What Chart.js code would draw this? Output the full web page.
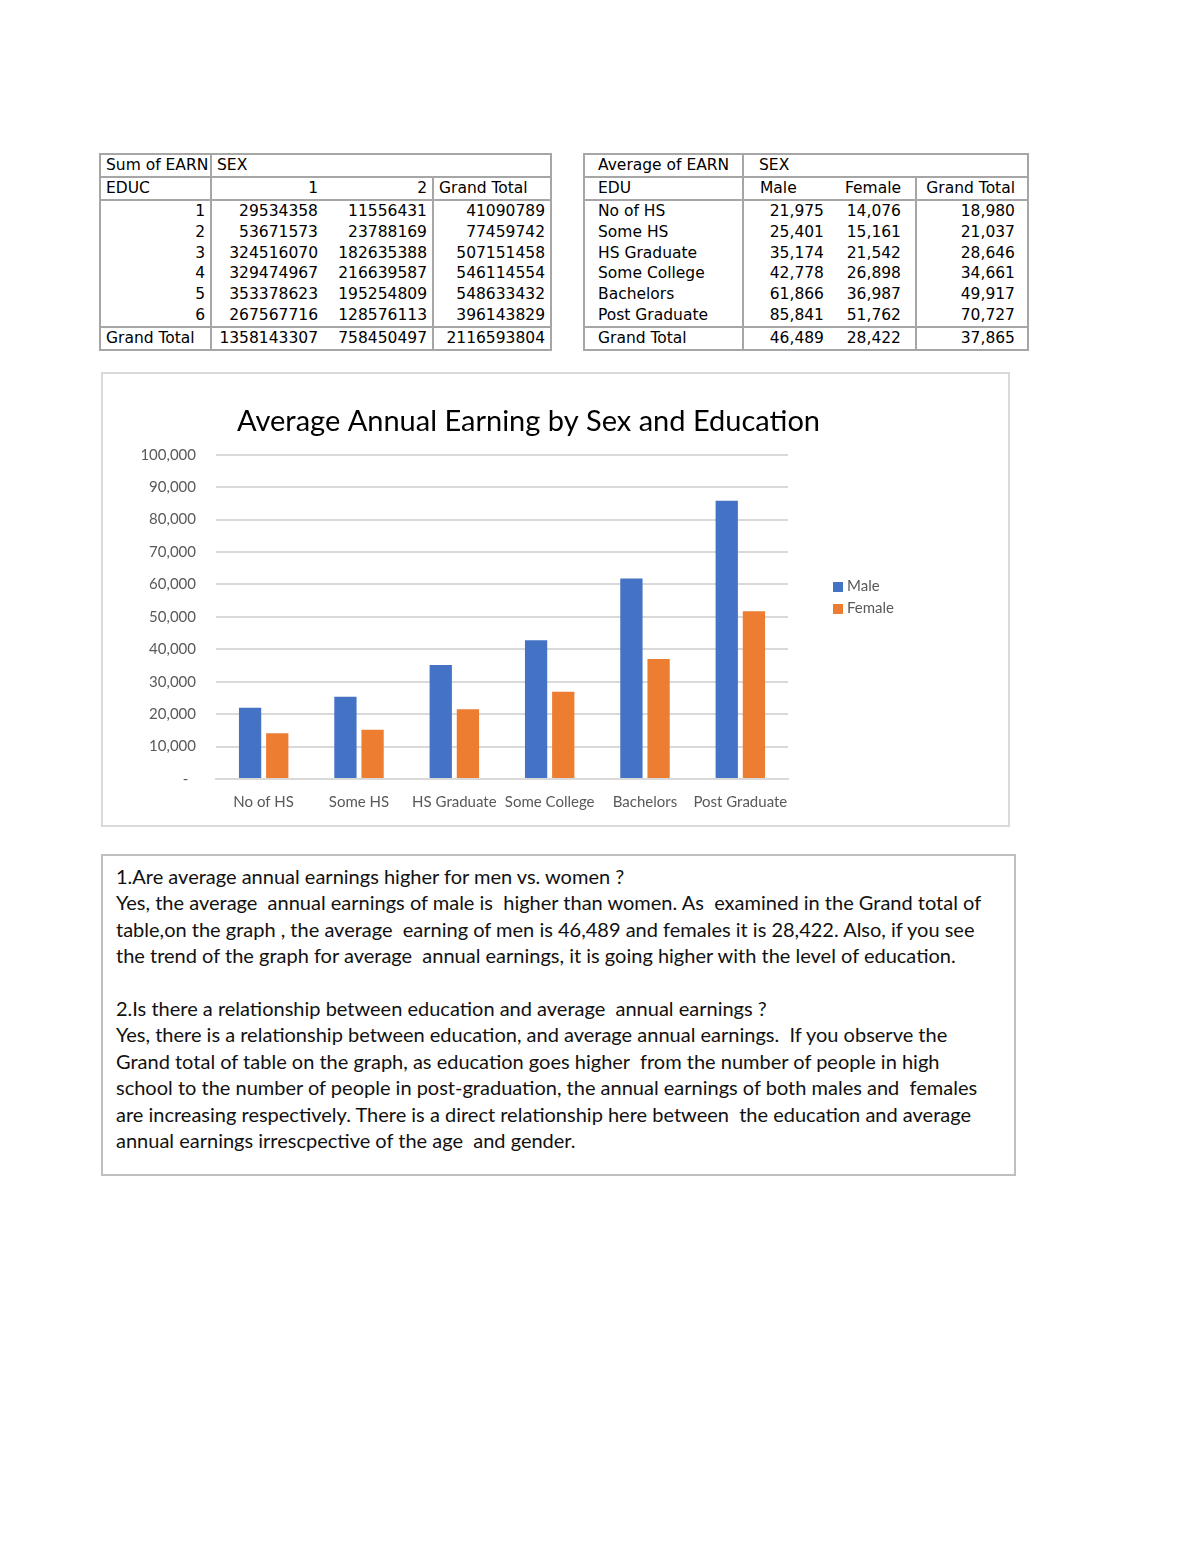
<!DOCTYPE html>
<html>
<head>
<meta charset="utf-8">
<title>Average Annual Earning by Sex and Education</title>
<script src="https://cdn.jsdelivr.net/npm/chart.js@4.4.1/dist/chart.umd.min.js"></script>
<style>
  body { margin: 0; background: #fff; width: 1200px; height: 1553px; position: relative; }
  table.pivot {
    position: absolute; border-collapse: collapse; table-layout: fixed;
    border: 2px solid #a6a6a6; font-family: "DejaVu Sans", sans-serif; font-size: 15.5px; color: #000;
  }
  table.pivot td { height: 20.9px; padding: 0 5px; white-space: nowrap; line-height: 19px; overflow: hidden; }
  table.pivot td.num { text-align: right; }
  table.pivot td.vr { border-right: 2px solid #a6a6a6; }
  table.pivot tr.hb td { border-bottom: 2px solid #a6a6a6; }
  #chartBox { position: absolute; left: 101px; top: 372px; width: 909px; height: 455px; border: 2px solid #d9d9d9; box-sizing: border-box; }
  #chart { position: absolute; left: 103px; top: 374px; }
  #legend { position: absolute; left: 833px; top: 574px; font-family: Lato, sans-serif; font-size: 15px; color: #595959; }
  #legend div { height: 22px; line-height: 22px; white-space: nowrap; }
  #legend span.box { display: inline-block; width: 10px; height: 10px; margin-right: 4px; vertical-align: -1px; }
  #notes {
    position: absolute; left: 101px; top: 854px; width: 915px; height: 322px; box-sizing: border-box;
    border: 2px solid #bfbfbf; padding: 7px 0 0 13px;
    font-family: Lato, sans-serif; font-size: 20px; line-height: 26.4px; color: #111; white-space: pre;
  }
</style>
</head>
<body>

<table class="pivot" id="sumTable" style="left:99px; top:153px; width:451px;">
  <colgroup><col style="width:111px"><col style="width:112px"><col style="width:110px"><col style="width:118px"></colgroup>
  <tbody></tbody>
</table>

<table class="pivot" id="avgTable" style="left:583px; top:153px; width:444px;">
  <colgroup><col style="width:159px"><col style="width:88px"><col style="width:85px"><col style="width:112px"></colgroup>
  <tbody></tbody>
</table>

<div id="chartBox"></div>
<canvas id="chart" width="850" height="451"></canvas>
<div id="legend"></div>

<div id="notes">1.Are average annual earnings higher for men vs. women ?
Yes, the average  annual earnings of male is  higher than women. As  examined in the Grand total of
table,on the graph , the average  earning of men is 46,489 and females it is 28,422. Also, if you see
the trend of the graph for average  annual earnings, it is going higher with the level of education.

2.Is there a relationship between education and average  annual earnings ?
Yes, there is a relationship between education, and average annual earnings.  If you observe the
Grand total of table on the graph, as education goes higher  from the number of people in high
school to the number of people in post-graduation, the annual earnings of both males and  females
are increasing respectively. There is a direct relationship here between  the education and average
annual earnings irrescpective of the age  and gender.</div>

<script>
// Sum of EARN pivot (raw totals by EDUC code and SEX code)
const educCodes = [1, 2, 3, 4, 5, 6];
const sumMale = [29534358, 53671573, 324516070, 329474967, 353378623, 267567716];
const sumFemale = [11556431, 23788169, 182635388, 216639587, 195254809, 128576113];
const sumTotal = [41090789, 77459742, 507151458, 546114554, 548633432, 396143829];
const sumGrand = [1358143307, 758450497, 2116593804];

// Average of EARN pivot - this is what the chart shows
const eduLabels = ["No of HS", "Some HS", "HS Graduate", "Some College", "Bachelors", "Post Graduate"];
const avgMale = [21975, 25401, 35174, 42778, 61866, 85841];
const avgFemale = [14076, 15161, 21542, 26898, 36987, 51762];
const avgTotal = [18980, 21037, 28646, 34661, 49917, 70727];
const avgGrand = [46489, 28422, 37865];

const seriesNames = ["Male", "Female"];
const seriesColors = ["#4472C4", "#ED7D31"];

const fmt = (n) => n.toLocaleString("en-US");

// Builds one table row from a list of [text, className, colspan] cells
function row(cells, rowClass) {
  const tr = document.createElement("tr");
  if (rowClass) tr.className = rowClass;
  cells.forEach(([text, cls, span]) => {
    const td = document.createElement("td");
    td.textContent = text;
    if (cls) td.className = cls;
    if (span) td.colSpan = span;
    tr.appendChild(td);
  });
  return tr;
}

// Sum table
const sumBody = document.querySelector("#sumTable tbody");
sumBody.appendChild(row([["Sum of EARN", "vr"], ["SEX", "", 3]], "hb"));
sumBody.appendChild(row([["EDUC", "vr"], ["1", "num"], ["2", "num vr"], ["Grand Total", ""]], "hb"));
educCodes.forEach((code, i) => {
  sumBody.appendChild(row([
    [String(code), "num vr"], [String(sumMale[i]), "num"], [String(sumFemale[i]), "num vr"], [String(sumTotal[i]), "num"]
  ], i === educCodes.length - 1 ? "hb" : ""));
});
sumBody.appendChild(row([["Grand Total", "vr"], [String(sumGrand[0]), "num"], [String(sumGrand[1]), "num vr"], [String(sumGrand[2]), "num"]]));

// Average table
const avgBody = document.querySelector("#avgTable tbody");
avgBody.appendChild(row([["Average of EARN", "vr"], ["SEX", "", 3]], "hb"));
avgBody.appendChild(row([["EDU", "vr"], ["Male", ""], ["Female", "num vr"], ["Grand Total", "num"]], "hb"));
eduLabels.forEach((label, i) => {
  avgBody.appendChild(row([
    [label, "vr"], [fmt(avgMale[i]), "num"], [fmt(avgFemale[i]), "num vr"], [fmt(avgTotal[i]), "num"]
  ], i === eduLabels.length - 1 ? "hb" : ""));
});
avgBody.appendChild(row([["Grand Total", "vr"], [fmt(avgGrand[0]), "num"], [fmt(avgGrand[1]), "num vr"], [fmt(avgGrand[2]), "num"]]));

// table 2 has wider inner padding than table 1
document.querySelectorAll("#avgTable tr").forEach((tr) => {
  const tds = tr.children;
  tds[0].style.paddingLeft = "13px";
  if (tds.length === 2) { tds[1].style.paddingLeft = "15px"; return; }
  tds[1].style.paddingLeft = "16px";
  tds[1].style.paddingRight = "7px";
  tds[2].style.paddingRight = "14px";
  tds[3].style.paddingRight = "12px";
});

// Legend (drawn as html next to the chart)
const legendDiv = document.getElementById("legend");
seriesNames.forEach((name, i) => {
  const item = document.createElement("div");
  item.innerHTML = '<span class="box" style="background:' + seriesColors[i] + '"></span>' + name;
  legendDiv.appendChild(item);
});

// Excel centres the title over the whole chart box, not over the plot
const titleShift = {
  id: "titleShift",
  afterLayout(chart) {
    chart.titleBlock.left += 83;
    chart.titleBlock.right += 83;
  },
};

const tickFont = { family: "Lato", size: 15 };

new Chart(document.getElementById("chart").getContext("2d"), {
  type: "bar",
  data: {
    labels: eduLabels,
    datasets: [
      { label: seriesNames[0], data: avgMale, backgroundColor: seriesColors[0], barPercentage: 0.82, categoryPercentage: 0.57 },
      { label: seriesNames[1], data: avgFemale, backgroundColor: seriesColors[1], barPercentage: 0.82, categoryPercentage: 0.57 },
    ],
  },
  plugins: [titleShift],
  options: {
    responsive: false,
    animation: false,
    layout: { padding: { left: 0, right: 165, top: 30, bottom: 0 } },
    plugins: {
      legend: { display: false },
      tooltip: { enabled: false },
      title: {
        display: true,
        text: "Average Annual Earning by Sex and Education",
        color: "#000",
        font: { family: "Lato", size: 29, weight: "normal" },
        padding: { top: 0, bottom: 16 },
      },
    },
    scales: {
      x: {
        grid: { display: false, drawTicks: false },
        border: { color: "#d9d9d9", width: 2 },
        ticks: { color: "#595959", font: tickFont, padding: 14, autoSkip: false, maxRotation: 0, minRotation: 0 },
      },
      y: {
        min: 0,
        max: 100000,
        grid: { color: "#d9d9d9", lineWidth: 2, drawTicks: false },
        border: { display: false },
        ticks: {
          stepSize: 10000,
          color: "#595959",
          font: tickFont,
          padding: 20,
          callback: (v) => (v === 0 ? "-  " : fmt(v)),
        },
        afterFit: (axis) => { axis.width = 113; },
      },
    },
  },
});
</script>
</body>
</html>
